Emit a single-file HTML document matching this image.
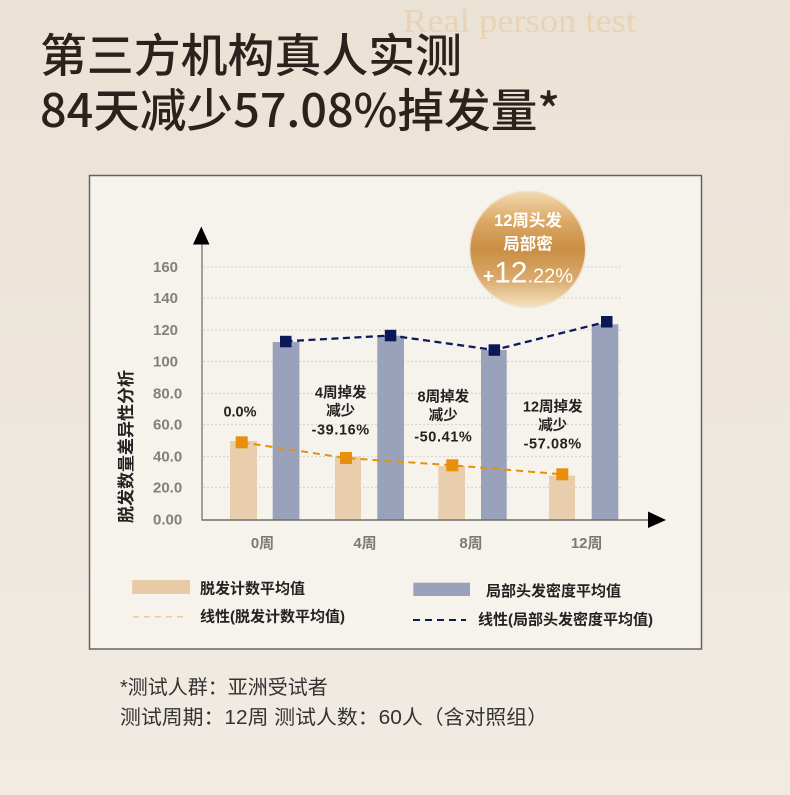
<!DOCTYPE html>
<html><head><meta charset="utf-8"><style>
html,body{margin:0;padding:0;width:790px;height:795px;overflow:hidden;background:#eee6dc;}
svg{display:block;}
text{font-family:"Liberation Sans","Noto Sans CJK SC",sans-serif;}
</style></head><body>
<svg width="790" height="795" viewBox="0 0 790 795" xmlns="http://www.w3.org/2000/svg">
<defs>
<linearGradient id="bg" x1="0" y1="0" x2="0" y2="1">
<stop offset="0" stop-color="#ebe2d6"/><stop offset="1" stop-color="#f1ebe3"/>
</linearGradient>
<linearGradient id="badge" x1="0" y1="0" x2="0" y2="1">
<stop offset="0" stop-color="#f3dab0"/><stop offset="0.25" stop-color="#dcaa68"/><stop offset="0.5" stop-color="#c98e43"/><stop offset="0.75" stop-color="#d9a96b"/><stop offset="1" stop-color="#f6e2c0"/>
</linearGradient>
</defs>
<rect x="0" y="0" width="790" height="795" fill="url(#bg)"/>
<text x="403" y="32" font-size="34" fill="#e9d2b6" textLength="233" lengthAdjust="spacingAndGlyphs" style="font-family:'Liberation Serif',serif">Real person test</text>
<text x="40" y="72" font-size="46" font-weight="500" fill="#2b221e" textLength="422" lengthAdjust="spacingAndGlyphs" style="font-family:'Noto Sans CJK SC','Liberation Sans',sans-serif">第三方机构真人实测</text>
<text x="40" y="127" font-size="46" font-weight="500" fill="#2b221e" textLength="520" lengthAdjust="spacingAndGlyphs" style="font-family:'Noto Sans CJK SC','Liberation Sans',sans-serif">84天减少57.08%掉发量*</text>

<rect x="89.5" y="175.5" width="612" height="473.5" fill="#f6f2ec" stroke="#666260" stroke-width="1.5"/>

<!-- gridlines -->
<g stroke="#d9d5cf" stroke-width="1.2" stroke-dasharray="2 2">
<line x1="203" y1="267" x2="623" y2="267"/>
<line x1="203" y1="298" x2="623" y2="298"/>
<line x1="203" y1="330" x2="623" y2="330"/>
<line x1="203" y1="361.5" x2="623" y2="361.5"/>
<line x1="203" y1="393.5" x2="623" y2="393.5"/>
<line x1="203" y1="424.5" x2="623" y2="424.5"/>
<line x1="203" y1="456.5" x2="623" y2="456.5"/>
<line x1="203" y1="487.5" x2="623" y2="487.5"/>
</g>

<!-- tick labels -->
<g font-size="15" font-weight="bold" fill="#808080">
<text x="153" y="272">160</text>
<text x="153" y="303">140</text>
<text x="153" y="335">120</text>
<text x="153" y="366.5">100</text>
<text x="153" y="398.5">80.0</text>
<text x="153" y="429.5">60.0</text>
<text x="153" y="461.5">40.0</text>
<text x="153" y="492.5">20.0</text>
<text x="153" y="524.5">0.00</text>
</g>

<!-- y axis title -->
<text transform="translate(132,446.5) rotate(-90)" text-anchor="middle" font-size="17" font-weight="bold" fill="#222" textLength="153" lengthAdjust="spacingAndGlyphs">脱发数量差异性分析</text>

<!-- bars -->
<g fill="#e9cead">
<rect x="230" y="441" width="27" height="79"/>
<rect x="335" y="456.7" width="26" height="63.3"/>
<rect x="438.3" y="466" width="26.7" height="54"/>
<rect x="549" y="475.7" width="26" height="44.3"/>
</g>
<g fill="#9aa1ba">
<rect x="272.7" y="342" width="26.7" height="178"/>
<rect x="377.3" y="335.7" width="26.7" height="184.3"/>
<rect x="481" y="350" width="25.7" height="170"/>
<rect x="591.7" y="324.3" width="26.6" height="195.7"/>
</g>

<!-- axes -->
<line x1="202" y1="242" x2="202" y2="520.5" stroke="#858585" stroke-width="1.5"/>
<polygon points="193,244.5 209.5,244.5 201.3,226.5" fill="#000"/>
<line x1="202" y1="520" x2="650" y2="520" stroke="#6e6e6e" stroke-width="1.5"/>
<polygon points="648,511.5 648,528 666,520" fill="#000"/>

<!-- trend lines -->
<polyline points="241.7,442.3 346,458 452.3,465.3 562.3,474.3" fill="none" stroke="#e8900c" stroke-width="2" stroke-dasharray="7 5"/>
<polyline points="285.5,341.3 390.5,335.5 494.3,350 606.7,321.7" fill="none" stroke="#0d1a5c" stroke-width="2.3" stroke-dasharray="7 4.5"/>

<g fill="#e8900c">
<rect x="235.7" y="436.3" width="12" height="12"/>
<rect x="340" y="452" width="12" height="12"/>
<rect x="446.3" y="459.3" width="12" height="12"/>
<rect x="556.3" y="468.3" width="12" height="12"/>
</g>
<g fill="#0b1759">
<rect x="280" y="335.8" width="11.5" height="11.5"/>
<rect x="384.8" y="329.8" width="11.5" height="11.5"/>
<rect x="488.6" y="344.3" width="11.5" height="11.5"/>
<rect x="601" y="316" width="11.5" height="11.5"/>
</g>

<!-- annotations -->
<g font-size="14.5" font-weight="bold" fill="#222" text-anchor="middle">
<text x="240" y="416.5">0.0%</text>
<text x="340.7" y="397.5">4周掉发</text>
<text x="340.7" y="415.5">减少</text>
<text x="340.7" y="434.5" letter-spacing="0.6">-39.16%</text>
<text x="443.3" y="401.5">8周掉发</text>
<text x="443.3" y="420">减少</text>
<text x="443.3" y="441.5" letter-spacing="0.6">-50.41%</text>
<text x="552.7" y="411.5">12周掉发</text>
<text x="552.7" y="430">减少</text>
<text x="552.7" y="448.5" letter-spacing="0.6">-57.08%</text>
</g>

<!-- x labels -->
<g font-size="15" font-weight="bold" fill="#7a7a7a" text-anchor="middle">
<text x="262.5" y="548">0周</text>
<text x="365" y="548">4周</text>
<text x="471" y="548">8周</text>
<text x="586.7" y="548">12周</text>
</g>

<!-- badge -->
<circle cx="527.7" cy="249.3" r="58" fill="url(#badge)" stroke="#efe3d2" stroke-width="1.5"/>
<g fill="#fff" font-weight="bold" text-anchor="middle">
<text x="528" y="226" font-size="16.5">12周头发</text>
<text x="528" y="249.5" font-size="16.5">局部密</text>
</g>
<text x="483" y="282.5" fill="#fff" font-weight="bold"><tspan font-size="19">+</tspan><tspan font-size="30" font-weight="normal">12</tspan><tspan font-size="20" font-weight="normal">.22%</tspan></text>

<!-- legend -->
<rect x="132.3" y="580" width="57.7" height="14" fill="#e8cba6"/>
<text x="200" y="593.5" font-size="15" font-weight="bold" fill="#222">脱发计数平均值</text>
<line x1="133" y1="616.7" x2="188" y2="616.7" stroke="#f0c89e" stroke-width="1.5" stroke-dasharray="6 5"/>
<text x="200" y="621.5" font-size="15" font-weight="bold" fill="#222">线性(脱发计数平均值)</text>
<rect x="413.3" y="582.7" width="56.7" height="13.3" fill="#9aa1ba"/>
<text x="486" y="596" font-size="15" font-weight="bold" fill="#222">局部头发密度平均值</text>
<line x1="413" y1="620" x2="466" y2="620" stroke="#0d1a5c" stroke-width="2" stroke-dasharray="7 5"/>
<text x="478" y="624.5" font-size="15" font-weight="bold" fill="#222">线性(局部头发密度平均值)</text>

<!-- footer -->
<text x="120" y="694" font-size="20" fill="#333">*测试人群：亚洲受试者</text>
<text x="120" y="724" font-size="20" fill="#333" textLength="428" lengthAdjust="spacingAndGlyphs">测试周期：12周 测试人数：60人（含对照组）</text>
</svg>
</body></html>
